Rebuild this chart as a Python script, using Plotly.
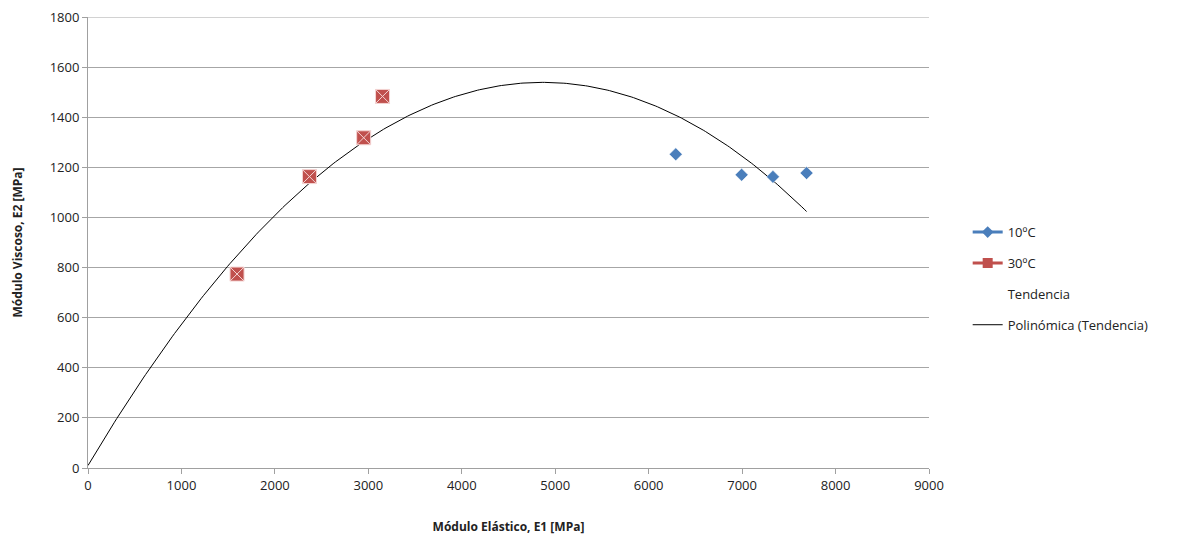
import numpy as np
import plotly.graph_objects as go

# Measured moduli (MPa)
e1_10c = [6290, 6995, 7330, 7690]
e2_10c = [1252, 1170, 1162, 1177]

e1_30c = [1595, 2370, 2950, 3152]
e2_30c = [774, 1163, 1318, 1483]

# Second-order polynomial trend: E2 = a*E1^2 + b*E1 + c
trend_coef = [-6.46e-5, 0.6286, 10.0]
trend_range = [0, 7690]

x_ticks = [0, 1000, 2000, 3000, 4000, 5000, 6000, 7000, 8000, 9000]
y_ticks = [0, 200, 400, 600, 800, 1000, 1200, 1400, 1600, 1800]

BLUE = "#4A7EBB"
RED = "#C0504D"
FONT = "Open Sans, Noto Sans, sans-serif"

tx = np.linspace(trend_range[0], trend_range[1], 300)
ty = np.polyval(trend_coef, tx)

fig = go.Figure()

# trend curve
fig.add_trace(go.Scatter(x=tx, y=ty, mode="lines",
                         line=dict(color="black", width=1),
                         showlegend=False, hoverinfo="skip"))

# data points
fig.add_trace(go.Scatter(x=e1_10c, y=e2_10c, mode="markers",
                         marker=dict(symbol="diamond", size=10, color=BLUE,
                                     line=dict(color="white", width=0.5)),
                         showlegend=False))
fig.add_trace(go.Scatter(x=e1_30c, y=e2_30c, mode="markers",
                         marker=dict(symbol="square-x", size=14, color=RED,
                                     line=dict(color="#F4D4D3", width=1)),
                         showlegend=False))

# legend entries
fig.add_trace(go.Scatter(x=[None], y=[None], mode="lines+markers", name="10ºC",
                         legendgroup="a",
                         line=dict(color=BLUE, width=3),
                         marker=dict(symbol="diamond", size=9, color=BLUE)))
fig.add_trace(go.Scatter(x=[None], y=[None], mode="lines+markers", name="30ºC",
                         legendgroup="b",
                         line=dict(color=RED, width=3),
                         marker=dict(symbol="square", size=10, color=RED)))
fig.add_trace(go.Scatter(x=[None], y=[None], mode="lines", name="Tendencia",
                         legendgroup="c",
                         line=dict(color="rgba(0,0,0,0)", width=1)))
fig.add_trace(go.Scatter(x=[None], y=[None], mode="lines", name="Polinómica (Tendencia)",
                         legendgroup="d",
                         line=dict(color="black", width=1)))

# top gridline at the upper end of the value axis
fig.add_shape(type="line", xref="paper", yref="y", x0=0, x1=1, y0=1800, y1=1800,
              line=dict(color="#A6A6A6", width=1), layer="below")

fig.update_layout(
    width=1178, height=538,
    margin=dict(l=88, r=249, t=17, b=70, autoexpand=False),
    paper_bgcolor="white", plot_bgcolor="white",
    font=dict(family=FONT, size=12, color="#222222"),
    legend=dict(x=1.046, y=0.42, xanchor="left", yanchor="middle",
                tracegroupgap=11, traceorder="grouped",
                font=dict(size=13, color="#222222")),
    xaxis=dict(range=[0, 9000], tickvals=x_ticks, showgrid=False,
               showline=True, linecolor="#A0A0A0", linewidth=1,
               ticks="outside", ticklen=5, tickcolor="#A0A0A0",
               zeroline=False, tickfont=dict(size=13), automargin=False,
               title=dict(text="<b>Módulo Elástico, E1 [MPa]</b>",
                          font=dict(size=12), standoff=30)),
    yaxis=dict(range=[0, 1800], tickvals=y_ticks, showgrid=True,
               gridcolor="#A6A6A6", gridwidth=1,
               showline=True, linecolor="#A0A0A0", linewidth=1,
               ticks="outside", ticklen=5, tickcolor="#A0A0A0",
               zeroline=False, tickfont=dict(size=13), automargin=False,
               title=dict(text="<b>Módulo Viscoso, E2 [MPa]</b>",
                          font=dict(size=12), standoff=24)),
)

fig.write_html("out.html")
